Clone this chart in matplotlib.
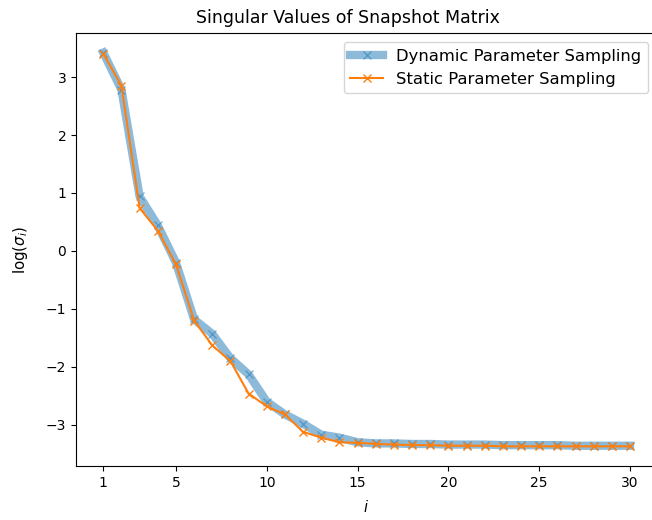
import matplotlib
matplotlib.use("Agg")
import matplotlib.pyplot as plt
import numpy as np

idx = list(range(1, 31))
dynamic = [3.42, 2.78, 0.94, 0.44, -0.20, -1.18, -1.43, -1.85, -2.13, -2.60,
           -2.82, -2.98, -3.17, -3.22, -3.30, -3.32, -3.32, -3.33, -3.33, -3.34,
           -3.34, -3.34, -3.35, -3.35, -3.35, -3.35, -3.36, -3.36, -3.36, -3.36]
static = [3.40, 2.85, 0.74, 0.35, -0.23, -1.20, -1.63, -1.90, -2.46, -2.68,
          -2.82, -3.12, -3.22, -3.30, -3.31, -3.33, -3.34, -3.35, -3.35, -3.36,
          -3.36, -3.36, -3.37, -3.37, -3.37, -3.37, -3.37, -3.37, -3.37, -3.37]
xticks = [1, 5, 10, 15, 20, 25, 30]

W, H = 652, 520
fig = plt.figure(figsize=(W / 100, H / 100), dpi=100)
left_px, right_px = 76, 700
span = right_px - left_px
ax = fig.add_axes([left_px / W, (H - 466) / H, span / W, 433 / H])
ax.plot(idx, dynamic, marker='x', color='C0', lw=6, alpha=0.5,
        label='Dynamic Parameter Sampling')
ax.plot(idx, static, marker='x', color='C1', lw=1.5,
        label='Static Parameter Sampling')
ax.set_xticks(xticks)
ppu = (630 - 103.3) / 29.0
x0 = 1 - (103.3 - left_px) / ppu
ax.set_xlim(x0, x0 + span / ppu)
ax.set_title('Singular Values of Snapshot Matrix', fontsize=12.5, pad=7.5,
             x=(348 - left_px) / span)
ax.set_xlabel('$i$', fontsize=10.5)
ax.xaxis.set_label_coords((366 - left_px) / span, -(499 - 466) / 433)
ax.set_ylabel(r'log($\sigma_i$)', fontsize=10.8, labelpad=11)
ax.legend(loc='upper right', bbox_to_anchor=(648 / W, 1 - 42 / H),
          bbox_transform=fig.transFigure, borderaxespad=0, fontsize=11.8)
fig.savefig('out.png', dpi=100)
